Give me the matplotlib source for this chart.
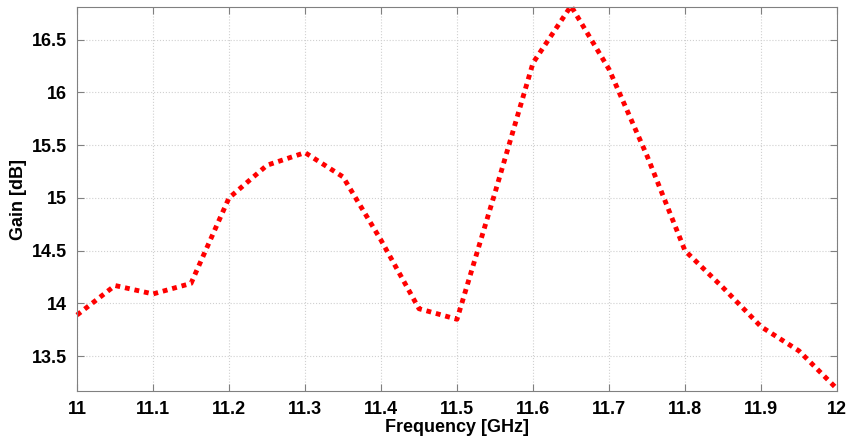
import matplotlib.pyplot as plt

# Dados
freq = [11.00, 11.05, 11.10, 11.15, 11.20, 11.25, 11.30, 11.35, 11.40, 11.45, 11.50,
        11.55, 11.60, 11.65, 11.70, 11.75, 11.80, 11.85, 11.90, 11.95, 12.00]
gain = [13.89, 14.17, 14.09, 14.19, 15.00, 15.31, 15.43, 15.20, 14.60, 13.95, 13.85,
        15.05, 16.28, 16.82, 16.22, 15.40, 14.50, 14.15, 13.78, 13.55, 13.19]

xticks = [11, 11.1, 11.2, 11.3, 11.4, 11.5, 11.6, 11.7, 11.8, 11.9, 12]
xlabels = ['11', '11.1', '11.2', '11.3', '11.4', '11.5', '11.6', '11.7', '11.8', '11.9', '12']
yticks = [13.5, 14, 14.5, 15, 15.5, 16, 16.5]
ylabels = ['13.5', '14', '14.5', '15', '15.5', '16', '16.5']

plt.rcParams['font.family'] = ['Liberation Sans', 'DejaVu Sans']
plt.rcParams['font.weight'] = 'bold'

fig = plt.figure(figsize=(8.63, 4.38), dpi=100)
ax = fig.add_axes([0.0892, 0.1073, 0.8807, 0.8767])

ax.plot(freq, gain, color='red', linewidth=3.5, linestyle=(0, (1, 1)),
        dash_capstyle='butt', clip_on=False)

ax.set_xlim(11, 12)
ax.set_ylim(13.17, 16.81)
ax.set_xticks(xticks)
ax.set_xticklabels(xlabels, fontsize=13, fontweight='bold')
ax.set_yticks(yticks)
ax.set_yticklabels(ylabels, fontsize=13, fontweight='bold')
ax.tick_params(direction='in', top=True, right=True, length=5, color='#808080', pad=7)

ax.grid(True, linestyle=':', color='#d0d0d0', linewidth=0.8)
for s in ax.spines.values():
    s.set_color('#808080')

ax.set_xlabel('Frequency [GHz]', fontsize=13, fontweight='bold', labelpad=1)
ax.set_ylabel('Gain [dB]', fontsize=13, fontweight='bold', labelpad=4)

fig.savefig('out.png', dpi=100)
